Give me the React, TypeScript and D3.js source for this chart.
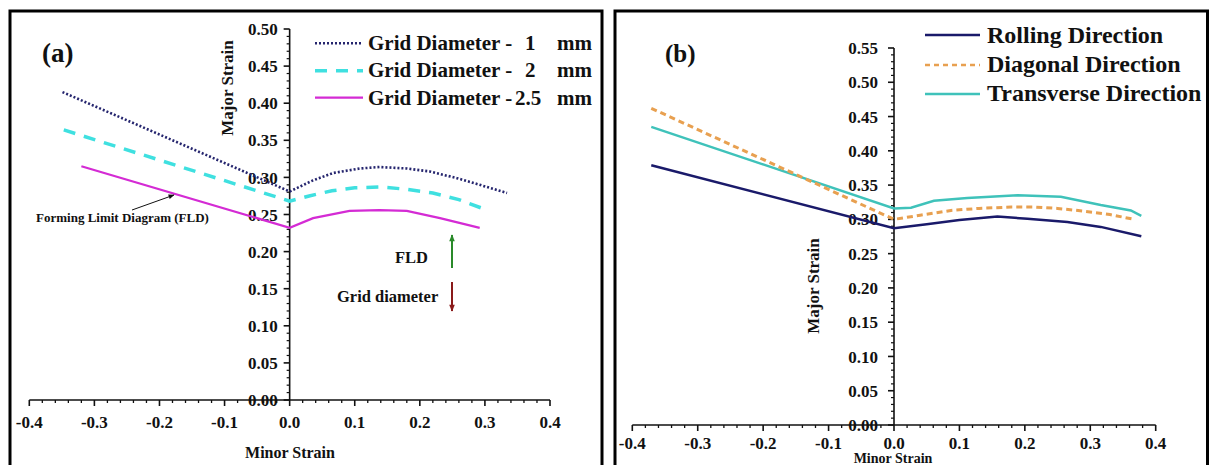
import React from "react";
import * as d3 from "d3";

// ---------- Panel (a) data ----------
const grid1X = [-0.349, 0, 0.036, 0.067, 0.108, 0.138, 0.18, 0.215, 0.257, 0.292, 0.334];
const grid1Y = [0.415, 0.281, 0.296, 0.306, 0.312, 0.314, 0.312, 0.308, 0.299, 0.29, 0.279];
const grid2X = [-0.347, 0, 0.03, 0.065, 0.1, 0.14, 0.18, 0.22, 0.26, 0.303];
const grid2Y = [0.364, 0.268, 0.275, 0.282, 0.286, 0.287, 0.284, 0.279, 0.27, 0.256];
const grid25X = [-0.32, 0, 0.036, 0.092, 0.138, 0.18, 0.231, 0.292];
const grid25Y = [0.315, 0.232, 0.245, 0.255, 0.256, 0.255, 0.245, 0.232];

// ---------- Panel (b) data ----------
const rollX = [-0.371, 0, 0.05, 0.1, 0.158, 0.204, 0.265, 0.316, 0.378];
const rollY = [0.379, 0.287, 0.293, 0.299, 0.304, 0.301, 0.296, 0.289, 0.2755];
const diagX = [-0.371, 0, 0.04, 0.087, 0.13, 0.179, 0.214, 0.25, 0.29, 0.33, 0.367];
const diagY = [0.462, 0.3, 0.306, 0.313, 0.316, 0.318, 0.318, 0.316, 0.312, 0.307, 0.3];
const transX = [-0.371, 0, 0.026, 0.061, 0.112, 0.189, 0.255, 0.316, 0.362, 0.378];
const transY = [0.435, 0.316, 0.317, 0.327, 0.331, 0.335, 0.333, 0.321, 0.313, 0.305];

// ---------- Ticks ----------
const xTickValues = [-0.4, -0.3, -0.2, -0.1, 0, 0.1, 0.2, 0.3, 0.4];
const xTickLabels = ["-0.4", "-0.3", "-0.2", "-0.1", "0.0", "0.1", "0.2", "0.3", "0.4"];
const yTickValuesA = [0, 0.05, 0.1, 0.15, 0.2, 0.25, 0.3, 0.35, 0.4, 0.45, 0.5];
const yTickLabelsA = ["0.00", "0.05", "0.10", "0.15", "0.20", "0.25", "0.30", "0.35", "0.40", "0.45", "0.50"];
const yTickValuesB = [0, 0.05, 0.1, 0.15, 0.2, 0.25, 0.3, 0.35, 0.4, 0.45, 0.5, 0.55];
const yTickLabelsB = ["0.00", "0.05", "0.10", "0.15", "0.20", "0.25", "0.30", "0.35", "0.40", "0.45", "0.50", "0.55"];

const FONT = "'Liberation Serif', 'Times New Roman', serif";

const zip = (xs: number[], ys: number[]) => xs.map((v, i) => [v, ys[i]] as [number, number]);

type AxesProps = {
  x: d3.ScaleLinear<number, number>;
  y: d3.ScaleLinear<number, number>;
  yTicks: number[];
  yLabels: string[];
  yLabelGap: number;
  xLabelDy: number;
};

function Axes({ x, y, yTicks, yLabels, yLabelGap, xLabelDy }: AxesProps) {
  const x0 = x(0);
  const y0 = y(0);
  const yMax = yTicks[yTicks.length - 1];
  const xMinor = d3.range(-40, 41, 2).filter((v) => v % 10 !== 0).map((v) => v / 100);
  const yMinor = d3
    .range(0, Math.round(yMax * 100) + 1, 1)
    .filter((v) => v % 5 !== 0)
    .map((v) => v / 100);
  return (
    <g>
      <line x1={x(-0.4)} x2={x(0.4)} y1={y0} y2={y0} stroke="#111" strokeWidth={1.6} />
      <line x1={x0} x2={x0} y1={y(0)} y2={y(yMax)} stroke="#111" strokeWidth={1.6} />
      {xTickValues.map((v) => (
        <line key={"xt" + v} x1={x(v)} x2={x(v)} y1={y0} y2={y0 + 6} stroke="#111" strokeWidth={1.6} />
      ))}
      {xMinor.map((v) => (
        <line key={"xm" + v} x1={x(v)} x2={x(v)} y1={y0} y2={y0 + 3} stroke="#111" strokeWidth={1.3} />
      ))}
      {yTicks.map((v) => (
        <line key={"yt" + v} x1={x0 - 6} x2={x0} y1={y(v)} y2={y(v)} stroke="#111" strokeWidth={1.6} />
      ))}
      {yMinor.map((v) => (
        <line key={"ym" + v} x1={x0 - 3} x2={x0} y1={y(v)} y2={y(v)} stroke="#111" strokeWidth={1.2} />
      ))}
      {xTickValues.map((v, i) => (
        <text
          key={"xl" + v}
          x={x(v)}
          y={y0 + xLabelDy}
          textAnchor="middle"
          fontFamily={FONT}
          fontWeight="bold"
          fontSize={17}
          fill="#111"
        >
          {xTickLabels[i]}
        </text>
      ))}
      {yTicks.map((v, i) => (
        <text
          key={"yl" + v}
          x={x0 - yLabelGap}
          y={y(v)}
          dy="0.36em"
          textAnchor="end"
          fontFamily={FONT}
          fontWeight="bold"
          fontSize={17}
          fill="#111"
        >
          {yLabels[i]}
        </text>
      ))}
    </g>
  );
}

export default function App() {
  const xA = d3.scaleLinear().domain([-0.4, 0.4]).range([29.3, 550]);
  const yA = d3.scaleLinear().domain([0, 0.5]).range([400, 29]);
  const xB = d3.scaleLinear().domain([-0.4, 0.4]).range([632.3, 1155.7]);
  const yB = d3.scaleLinear().domain([0, 0.55]).range([425, 48]);

  const lineA = d3
    .line<[number, number]>()
    .x((d) => xA(d[0]))
    .y((d) => yA(d[1]));
  const lineB = d3
    .line<[number, number]>()
    .x((d) => xB(d[0]))
    .y((d) => yB(d[1]));

  const c1 = "#25256e";
  const c2 = "#3fe0e0";
  const c3 = "#d42bd4";
  const cR = "#1a1a6a";
  const cD = "#e8a050";
  const cT = "#3fc2ba";

  const txt = { fontFamily: FONT, fontWeight: "bold" as const, fill: "#111" };

  return (
    <svg
      width={1210}
      height={465}
      style={{ position: "absolute", left: 0, top: 0, background: "#fff" }}
    >
      <defs>
        <marker id="arrBlack" viewBox="0 0 10 10" refX="9" refY="5" markerWidth="7" markerHeight="6" orient="auto" markerUnits="userSpaceOnUse">
          <path d="M0,1 L10,5 L0,9 z" fill="#111" />
        </marker>
        <marker id="arrGreen" viewBox="0 0 10 10" refX="9" refY="5" markerWidth="10" markerHeight="7" orient="auto" markerUnits="userSpaceOnUse">
          <path d="M0,1 L10,5 L0,9 z" fill="#2a8a2a" />
        </marker>
        <marker id="arrRed" viewBox="0 0 10 10" refX="9" refY="5" markerWidth="10" markerHeight="7" orient="auto" markerUnits="userSpaceOnUse">
          <path d="M0,1 L10,5 L0,9 z" fill="#8a1a1a" />
        </marker>
      </defs>
      <rect x={0} y={0} width={1210} height={465} fill="#fff" />
      {/* panel borders */}
      <rect x={10} y={11} width={592} height={500} fill="none" stroke="#000" strokeWidth={3} />
      <rect x={615} y={11} width={592.5} height={500} fill="none" stroke="#000" strokeWidth={3} />

      {/* ---------- Panel (a) ---------- */}
      <Axes x={xA} y={yA} yTicks={yTickValuesA} yLabels={yTickLabelsA} yLabelGap={12} xLabelDy={28} />
      <path d={lineA(zip(grid1X, grid1Y)) || ""} fill="none" stroke={c1} strokeWidth={2.6} strokeDasharray="2 2" />
      <path d={lineA(zip(grid2X, grid2Y)) || ""} fill="none" stroke={c2} strokeWidth={3.5} strokeDasharray="12 9" />
      <path d={lineA(zip(grid25X, grid25Y)) || ""} fill="none" stroke={c3} strokeWidth={2.3} />

      <text x={42} y={62} {...txt} fontSize={27}>(a)</text>
      <text transform="translate(233,88) rotate(-90)" textAnchor="middle" {...txt} fontSize={17}>Major Strain</text>
      <text x={290} y={458} textAnchor="middle" {...txt} fontSize={16}>Minor Strain</text>

      {/* legend (a) */}
      <line x1={315} x2={363} y1={43.3} y2={43.3} stroke={c1} strokeWidth={2.4} strokeDasharray="2 2" />
      <line x1={315} x2={363} y1={70.7} y2={70.7} stroke={c2} strokeWidth={3.5} strokeDasharray="12 9" />
      <line x1={315} x2={363} y1={97.7} y2={97.7} stroke={c3} strokeWidth={2.3} />
      {[
        { y: 50, num: "1", nx: 525 },
        { y: 77, num: "2", nx: 525 },
        { y: 105, num: "2.5", nx: 515 },
      ].map((r) => (
        <g key={r.y}>
          <text x={368} y={r.y} {...txt} fontSize={21}>Grid Diameter -</text>
          <text x={r.nx} y={r.y} {...txt} fontSize={21}>{r.num}</text>
          <text x={557} y={r.y} {...txt} fontSize={21}>mm</text>
        </g>
      ))}

      {/* annotations (a) */}
      <text x={36} y={222} {...txt} fontSize={13}>Forming Limit Diagram (FLD)</text>
      <line x1={132} y1={210} x2={174} y2={195} stroke="#111" strokeWidth={1} markerEnd="url(#arrBlack)" />
      <text x={395} y={263} {...txt} fontSize={16.5}>FLD</text>
      <line x1={452} y1={268} x2={452} y2={235} stroke="#2a8a2a" strokeWidth={2} markerEnd="url(#arrGreen)" />
      <text x={337} y={302} {...txt} fontSize={16.5}>Grid diameter</text>
      <line x1={452} y1={282} x2={452} y2={311} stroke="#8a1a1a" strokeWidth={2} markerEnd="url(#arrRed)" />

      {/* ---------- Panel (b) ---------- */}
      <Axes x={xB} y={yB} yTicks={yTickValuesB} yLabels={yTickLabelsB} yLabelGap={16} xLabelDy={24} />
      <path d={lineB(zip(rollX, rollY)) || ""} fill="none" stroke={cR} strokeWidth={2.5} />
      <path d={lineB(zip(transX, transY)) || ""} fill="none" stroke={cT} strokeWidth={2.5} />
      <path d={lineB(zip(diagX, diagY)) || ""} fill="none" stroke={cD} strokeWidth={3} strokeDasharray="6 4" />

      <text x={665} y={62} {...txt} fontSize={25}>(b)</text>
      <text transform="translate(819,286) rotate(-90)" textAnchor="middle" {...txt} fontSize={17}>Major Strain</text>
      <text x={893} y={463} textAnchor="middle" {...txt} fontSize={14}>Minor Strain</text>

      {/* legend (b) */}
      <line x1={925} x2={980} y1={35} y2={35} stroke={cR} strokeWidth={2.5} />
      <line x1={925} x2={980} y1={65} y2={65} stroke={cD} strokeWidth={2.5} strokeDasharray="5 4" />
      <line x1={925} x2={980} y1={94} y2={94} stroke={cT} strokeWidth={2.5} />
      <text x={987} y={43} {...txt} fontSize={24}>Rolling Direction</text>
      <text x={987} y={72} {...txt} fontSize={24}>Diagonal Direction</text>
      <text x={987} y={101} {...txt} fontSize={24}>Transverse Direction</text>
    </svg>
  );
}
